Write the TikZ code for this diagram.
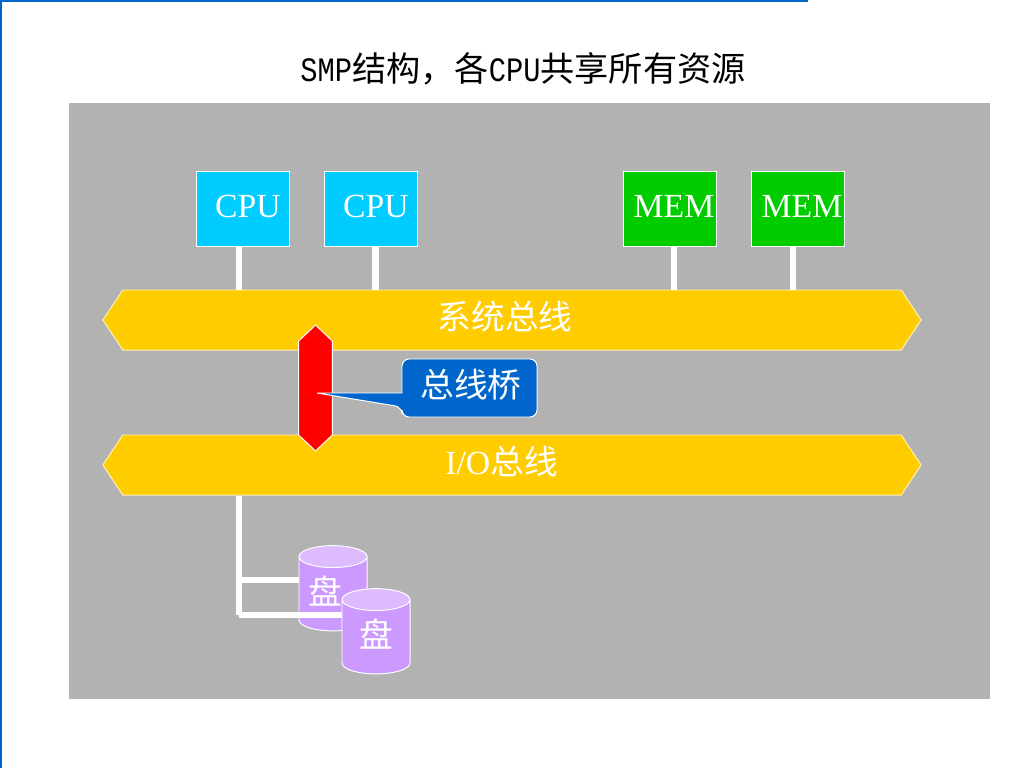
\documentclass[tikz,border=0pt]{standalone}
\usepackage{fontspec}
\setmainfont{Liberation Serif}
\newfontfamily\cjk{Noto Sans CJK SC}
\newfontfamily\titlelatin[FakeStretch=0.84]{Liberation Mono}
\usetikzlibrary{shapes.geometric, shapes.symbols}
\definecolor{panelgray}{HTML}{B2B2B2}
\definecolor{edgeblue}{HTML}{0066CC}
\definecolor{cpucyan}{HTML}{00CCFF}
\definecolor{memgreen}{HTML}{00CC00}
\definecolor{busyellow}{HTML}{FFCC00}
\definecolor{buslight}{HTML}{FFF2B8}
\definecolor{diskbody}{HTML}{CC99FF}
\definecolor{disktop}{HTML}{DDBBFF}

\begin{document}
\begin{tikzpicture}[x=0.025cm, y=-0.025cm, font=\fontsize{24}{28}\selectfont,
  unitbox/.style={draw=white, line width=0.7pt, minimum width=2.33cm, minimum height=1.88cm, inner sep=0pt, text=white, text depth=0.15cm},
  bus/.style={signal, signal to=west and east, signal pointer angle=113, draw=buslight, line width=0.7pt, fill=busyellow,
    minimum width=20.45cm, minimum height=1.5cm, inner sep=0pt, text=white, text height=0.75cm, text depth=0.3cm},
  bridge/.style={signal, signal to=north and south, signal pointer angle=93, draw=white, line width=0.7pt, fill=red,
    minimum width=0.84cm, minimum height=2.35cm, inner sep=0pt},
  disk/.style={cylinder, shape border rotate=90, aspect=0.65, draw=white, line width=0.7pt, cylinder uses custom fill,
    cylinder body fill=diskbody, cylinder end fill=disktop, minimum width=1.7cm, minimum height=2.13cm, inner sep=0pt, text=white, text depth=0.2cm},
  wire/.style={draw=white, line width=0.165cm}]
\useasboundingbox (0,0) rectangle (1024,768);

% --- frame ---
\fill[edgeblue] (0,0) rectangle (808,2);
\fill[edgeblue] (0,0) rectangle (2,768);
\fill[panelgray] (69,103) rectangle (990,699);

% --- title ---
\node[font=\fontsize{24.3}{28}\selectfont] (title) at (523,69) {{\titlelatin SMP}{\cjk 结构，各}{\titlelatin CPU}{\cjk 共享所有资源}};

% --- cpu, mem ---
\node[unitbox, fill=cpucyan] (cpu1) at (243,209) {\hspace{0.25cm}CPU};
\node[unitbox, fill=cpucyan] (cpu2) at (371,209) {\hspace{0.25cm}CPU};
\node[unitbox, fill=memgreen] (mem1) at (670,209) {\hspace{0.2cm}MEM};
\node[unitbox, fill=memgreen] (mem2) at (798,209) {\hspace{0.2cm}MEM};

% --- buses ---
\node[bus] (sysbus) at (512,320) {\cjk 系统总线\hspace{0.35cm}\null};
\node[bus] (iobus) at (512,465) {I/O{\cjk 总线}\hspace{0.52cm}\null};

\foreach \n/\s in {cpu1/-0.1, cpu2/0.11, mem1/0.1, mem2/-0.125}
  \draw[wire] ([xshift=\s cm]\n.south) -- ([xshift=\s cm]\n.south |- sysbus.north);

% bridge and its callout
\node[bridge] (busbridge) at (315.5,388) {};
\draw[draw=white, line width=0.7pt, fill=edgeblue] (busbridge.center) ++(1.5,5) coordinate (tip) -- (402,393)
  {[rounded corners=0.18cm] -- (402,359) -- (537,359) -- (537,417) -- (402,417) -- (402,407)} -- cycle;
\node[text=white] (bridgelabel) at (471,385) {\cjk 总线桥};

% --- disks ---
\node[disk] (disk1) at (333,594) {\cjk\makebox[0.84cm][l]{\hspace{-0.2cm}盘}};
\coordinate (corner) at (239,615);
\draw[wire] (corner |- iobus.south) -- (corner);
\draw[wire] (239,580) -- (disk1.west |- 239,580);
\draw[wire] (corner) -- (342,615);
\node[disk] (disk2) at (376,637) {\cjk\makebox[0.84cm][l]{盘}};

\end{tikzpicture}
\end{document}
